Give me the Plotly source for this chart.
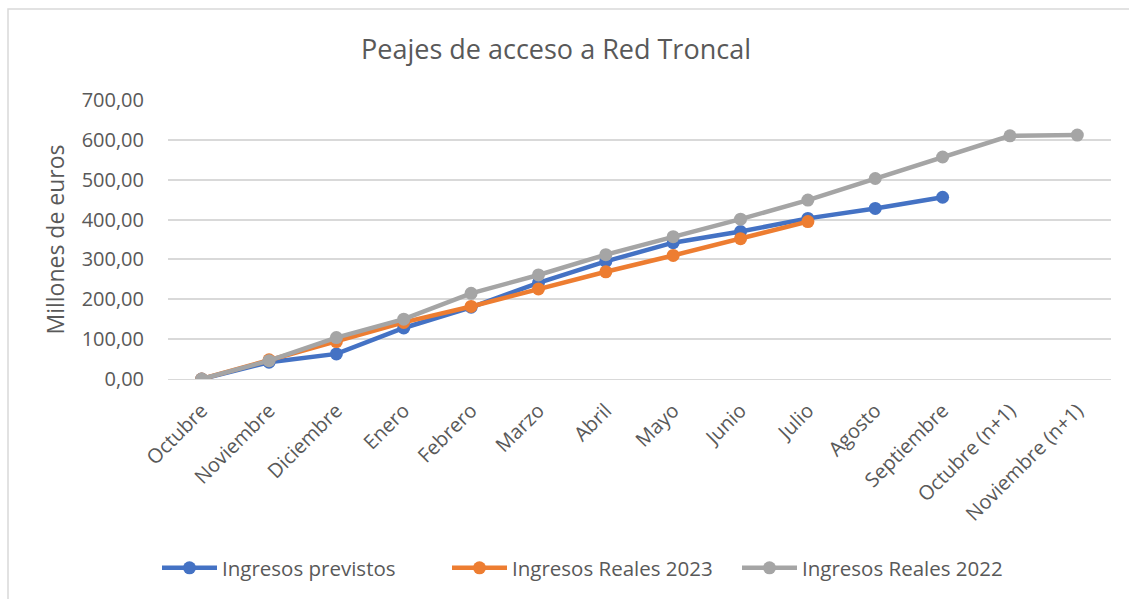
import plotly.graph_objects as go

categories = ["Octubre", "Noviembre", "Diciembre", "Enero", "Febrero", "Marzo", "Abril",
              "Mayo", "Junio", "Julio", "Agosto", "Septiembre", "Octubre (n+1)", "Noviembre (n+1)"]
previstos = [0, 42, 63, 128, 180, 241, 295, 342, 370, 403, 428, 456, None, None]
reales_2023 = [0, 48, 94, 142, 182, 226, 269, 310, 352, 395, None, None, None, None]
reales_2022 = [0, 46, 104, 150, 215, 261, 312, 357, 401, 449, 503, 557, 610, 612]
ytick_vals = [0, 100, 200, 300, 400, 500, 600, 700]
ytick_text = ["0,00", "100,00", "200,00", "300,00", "400,00", "500,00", "600,00", "700,00"]

series = [
    ("Ingresos previstos", previstos, "#4472C4"),
    ("Ingresos Reales 2023", reales_2023, "#ED7D31"),
    ("Ingresos Reales 2022", reales_2022, "#A5A5A5"),
]

W, H = 1129, 599
L, R, T, B = 168, 18, 100, 220
pw, ph = W - L - R, H - T - B
txt = "#595959"
font = "Open Sans"

fig = go.Figure()
for name, vals, col in series:
    fig.add_trace(go.Scatter(
        x=categories, y=vals, name=name, mode="lines+markers",
        line=dict(color=col, width=4.5), marker=dict(color=col, size=13),
        connectgaps=False,
    ))

def px(x):
    return (x - L) / pw

def py(y):
    return (H - B - y) / ph

fig.add_shape(type="rect", xref="paper", yref="paper",
              x0=px(8), x1=px(1160), y0=py(9), y1=py(640),
              line=dict(color="#D9D9D9", width=1.5), layer="below")

fig.update_layout(
    width=W, height=H,
    margin=dict(l=L, r=R, t=T, b=B, autoexpand=False),
    paper_bgcolor="white", plot_bgcolor="white",
    font=dict(family=font, color=txt),
    title=dict(text="Peajes de acceso a Red Troncal", x=556 / W, xanchor="center",
               y=1 - 50 / H, yanchor="middle", font=dict(size=27, color=txt, family=font)),
    showlegend=True,
    legend=dict(orientation="h", x=px(157), xanchor="left", y=py(568), yanchor="middle",
                font=dict(size=20.5, color=txt, family=font), itemwidth=55,
                entrywidth=220, traceorder="normal"),
)
fig.update_xaxes(range=[-0.5, 13.5], tickangle=-45, tickfont=dict(size=20, color=txt),
                 showgrid=False, showline=True, linecolor="#D9D9D9", linewidth=1,
                 ticks="", ticklabelstandoff=11, fixedrange=True)
fig.update_yaxes(range=[0, 700], tickvals=ytick_vals, ticktext=ytick_text,
                 tickfont=dict(size=20, color=txt), showgrid=True, gridcolor="#D9D9D9", gridwidth=1.5,
                 zeroline=False, showline=False, ticks="", ticklabelstandoff=23, fixedrange=True,
                 title=dict(text="Millones de euros", font=dict(size=23, color=txt), standoff=10))

fig.write_html("out.html", config={"displayModeBar": False},
               post_script="document.body.style.margin='0';")
